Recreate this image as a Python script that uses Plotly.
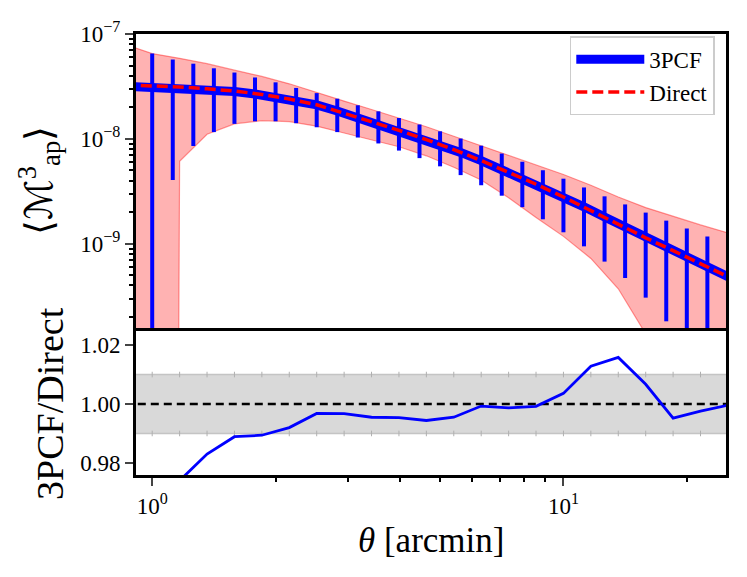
import plotly.graph_objects as go

# angular scales [arcmin]
theta_3pcf = [0.8913, 1.0, 1.1220, 1.2589, 1.4125, 1.5849, 1.7783, 1.9953, 2.2387, 2.5119,
              2.8184, 3.1623, 3.5481, 3.9811, 4.4668, 5.0119, 5.6234, 6.3096, 7.0795, 7.9433,
              8.9125, 10.0, 11.220, 12.589, 14.125, 15.849, 17.783, 19.953, 22.387, 25.119]
theta_direct = [0.8577, 1.0, 1.1659, 1.3594, 1.5849, 1.8478, 2.1544, 2.5119, 2.9286, 3.4145,
                3.9811, 4.6416, 5.4117, 6.3096, 7.3564, 8.5770, 10.0, 11.659, 13.594, 15.849,
                18.478, 21.544, 25.119]

# <M_ap^3> from the 3PCF
map3_3pcf = [3.162e-8, 3.112e-8, 3.062e-8, 3.013e-8, 2.924e-8, 2.825e-8, 2.679e-8, 2.512e-8,
             2.312e-8, 2.109e-8, 1.841e-8, 1.596e-8, 1.377e-8, 1.199e-8, 1.028e-8, 8.77e-9,
             7.43e-9, 6.21e-9, 5.11e-9, 4.20e-9, 3.47e-9, 2.80e-9, 2.25e-9, 1.795e-9, 1.435e-9,
             1.146e-9, 9.23e-10, 7.35e-10, 5.93e-10, 4.84e-10]
# error bar ends (0 = below the axis)
bar_hi = [6.50e-8, 5.71e-8, 5.21e-8, 4.71e-8, 4.29e-8, 3.85e-8, 3.46e-8, 3.06e-8, 2.73e-8,
          2.415e-8, 2.09e-8, 1.83e-8, 1.58e-8, 1.37e-8, 1.18e-8, 1.007e-8, 8.61e-9, 7.24e-9,
          6.05e-9, 5.02e-9, 4.17e-9, 3.44e-9, 2.83e-9, 2.37e-9, 1.98e-9, 1.66e-9, 1.40e-9, 1.17e-9]
bar_lo = [0, 4.05e-9, 8.55e-9, 1.16e-8, 1.39e-8, 1.47e-8, 1.47e-8, 1.41e-8, 1.29e-8, 1.16e-8,
          1.03e-8, 9.04e-9, 7.73e-9, 6.55e-9, 5.47e-9, 4.51e-9, 3.61e-9, 2.87e-9, 2.23e-9,
          1.71e-9, 1.285e-9, 9.44e-10, 6.75e-10, 4.71e-10, 3.06e-10, 1.82e-10, 0, 0]

# direct estimate and its uncertainty band
map3_direct = [3.273e-8, 3.228e-8, 3.126e-8, 2.999e-8, 2.858e-8, 2.655e-8, 2.399e-8, 2.113e-8,
               1.762e-8, 1.459e-8, 1.205e-8, 9.82e-9, 7.89e-9, 6.21e-9, 4.80e-9, 3.69e-9,
               2.79e-9, 2.06e-9, 1.52e-9, 1.138e-9, 8.59e-10, 6.38e-10, 4.84e-10]
band_hi = [8.00e-8, 6.50e-8, 5.86e-8, 5.21e-8, 4.52e-8, 3.94e-8, 3.35e-8, 2.75e-8, 2.29e-8,
           1.905e-8, 1.58e-8, 1.303e-8, 1.059e-8, 8.55e-9, 6.92e-9, 5.62e-9, 4.57e-9, 3.61e-9,
           2.79e-9, 2.21e-9, 1.82e-9, 1.51e-9, 1.27e-9]
band_lo = [1e-60, 1e-60, 6.10e-9, 1.107e-8, 1.39e-8, 1.493e-8, 1.462e-8, 1.321e-8, 1.138e-8,
           9.86e-9, 8.41e-9, 6.89e-9, 5.36e-9, 4.05e-9, 2.75e-9, 1.78e-9, 1.175e-9, 7.24e-10,
           3.72e-10, 1.38e-10, 1e-60, 1e-60, 1e-60]

# 3PCF / Direct
ratio = [0.965, 0.965, 0.974, 0.9830, 0.9889, 0.9894, 0.9920, 0.9968, 0.9967, 0.9955, 0.9954,
         0.9944, 0.9955, 0.9993, 0.9987, 0.9992, 1.0036, 1.0128, 1.0158, 1.0067, 0.9952,
         0.9976, 0.9996]
tol_lo, tol_hi = 0.99, 1.01

FONT = "Liberation Serif"
TICK_SIZE = 23

x_bar = theta_3pcf[1:29]
y_bar = map3_3pcf[1:29]
err_up = [h - y for h, y in zip(bar_hi, y_bar)]
err_dn = [y - l for l, y in zip(bar_lo, y_bar)]

fig = go.Figure()

# upper panel
fig.add_trace(go.Scatter(x=theta_direct, y=band_lo, mode="lines",
                         line=dict(color="rgba(255,0,0,0.4)", width=1.2),
                         showlegend=False, hoverinfo="skip"))
fig.add_trace(go.Scatter(x=theta_direct, y=band_hi, mode="lines", fill="tonexty",
                         fillcolor="rgba(255,0,0,0.3)",
                         line=dict(color="rgba(255,0,0,0.4)", width=1.2),
                         showlegend=False, hoverinfo="skip"))
fig.add_trace(go.Scatter(x=x_bar, y=y_bar, mode="markers",
                         marker=dict(size=1, color="rgba(0,0,0,0)"),
                         error_y=dict(type="data", symmetric=False, array=err_up,
                                      arrayminus=err_dn, color="blue", thickness=4, width=0),
                         showlegend=False))
fig.add_trace(go.Scatter(x=theta_3pcf, y=map3_3pcf, mode="lines", name="3PCF",
                         line=dict(color="blue", width=9)))
fig.add_trace(go.Scatter(x=theta_direct, y=map3_direct, mode="lines", name="Direct",
                         line=dict(color="red", width=3.5, dash="11px,5px")))

# lower panel
band_x = [theta_direct[0], theta_direct[-1]]
fig.add_trace(go.Scatter(x=theta_direct, y=[tol_lo] * len(theta_direct), mode="lines+markers",
                         line=dict(color="#c4c4c4", width=1.5),
                         marker=dict(symbol="line-ns", size=4, line=dict(color="#b0b0b0", width=1)),
                         xaxis="x2", yaxis="y2", showlegend=False, hoverinfo="skip"))
fig.add_trace(go.Scatter(x=theta_direct, y=[tol_hi] * len(theta_direct), mode="lines+markers",
                         fill="tonexty", fillcolor="rgba(128,128,128,0.3)",
                         line=dict(color="#c4c4c4", width=1.5),
                         marker=dict(symbol="line-ns", size=4, line=dict(color="#b0b0b0", width=1)),
                         xaxis="x2", yaxis="y2", showlegend=False, hoverinfo="skip"))
fig.add_trace(go.Scatter(x=band_x, y=[1.0, 1.0], mode="lines",
                         line=dict(color="black", width=2.5, dash="8px,5px"),
                         xaxis="x2", yaxis="y2", showlegend=False))
fig.add_trace(go.Scatter(x=theta_direct, y=ratio, mode="lines",
                         line=dict(color="blue", width=2.8),
                         xaxis="x2", yaxis="y2", showlegend=False))

frame = dict(showline=True, linecolor="black", linewidth=3, mirror=True,
             showgrid=False, zeroline=False)
xrange = [-0.0394, 1.3953]
minor_y = [m * 10.0 ** e for e in (-10, -9, -8) for m in range(2, 10)]
tick_font = dict(family=FONT, size=TICK_SIZE, color="black")

# the page body adds an 8px offset, so the figure is 16px smaller than the window
fig.update_layout(
    width=731, height=561,
    margin=dict(l=128, r=10, t=17, b=94),
    paper_bgcolor="white", plot_bgcolor="white",
    font=dict(family=FONT, size=TICK_SIZE, color="black"),
    xaxis=dict(type="log", range=xrange, domain=[0, 1], anchor="y",
               showticklabels=False, ticks="", **frame),
    yaxis=dict(type="log", range=[-9.804, -7.0], domain=[0.3333, 1], anchor="x",
               tickmode="array", tickvals=[1e-9, 1e-8, 1e-7],
               ticktext=["10<sup>−9</sup>", "10<sup>−8</sup>", "10<sup>−7</sup>"],
               ticks="outside", ticklen=8, tickwidth=2, tickfont=tick_font,
               minor=dict(tickmode="array", tickvals=minor_y, ticks="outside",
                          ticklen=4, tickwidth=1.5, tickcolor="black"),
               **frame),
    xaxis2=dict(type="log", range=xrange, domain=[0, 1], anchor="y2", matches="x",
                tickmode="array", tickvals=[1, 10],
                ticktext=["10<sup>0</sup>", "10<sup>1</sup>"],
                ticks="outside", ticklen=8, tickwidth=2, tickfont=tick_font,
                minor=dict(tickmode="array", tickvals=[2, 3, 4, 5, 6, 7, 8, 9, 20],
                           ticks="outside", ticklen=4, tickwidth=1.5, tickcolor="black"),
                **frame),
    yaxis2=dict(range=[0.9759, 1.0248], domain=[0, 0.3267], anchor="x2",
                tickmode="array", tickvals=[0.98, 1.00, 1.02],
                ticktext=["0.98", "1.00", "1.02"],
                ticks="outside", ticklen=8, tickwidth=2, tickfont=tick_font,
                **frame),
    legend=dict(x=0.981, y=0.995, xanchor="right", yanchor="top", traceorder="normal",
                bgcolor="white", bordercolor="#cccccc", borderwidth=1.5,
                itemwidth=68, font=dict(family=FONT, size=23), tracegroupgap=0),
    annotations=[
        dict(text="⟨ℳ<sup>3</sup><sub>ap</sub>⟩", xref="paper", yref="paper",
             x=-0.164, y=0.6667, xanchor="center", yanchor="middle", textangle=-90,
             showarrow=False, font=dict(family=FONT, size=38)),
        dict(text="3PCF/Direct", xref="paper", yref="paper",
             x=-0.145, y=0.1622, xanchor="center", yanchor="middle", textangle=-90,
             showarrow=False, font=dict(family=FONT, size=38)),
        dict(text="<i>θ</i> [arcmin]", xref="paper", yref="paper",
             x=0.5, y=-0.149, xanchor="center", yanchor="middle",
             showarrow=False, font=dict(family=FONT, size=35)),
    ],
)

fig.write_html("out.html")
